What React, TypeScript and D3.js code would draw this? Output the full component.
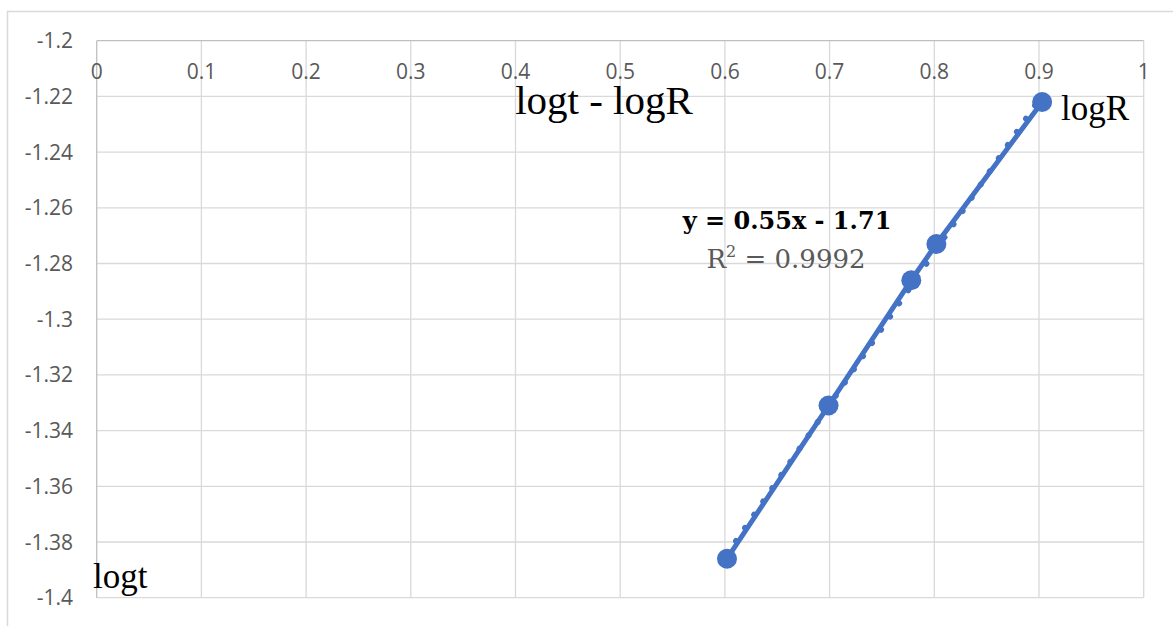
import * as d3 from 'd3';

const logT = [0.602, 0.699, 0.778, 0.802, 0.903];
const logR = [-1.386, -1.331, -1.286, -1.273, -1.222];
const xTicks = [0, 0.1, 0.2, 0.3, 0.4, 0.5, 0.6, 0.7, 0.8, 0.9, 1];
const yTicks = [-1.2, -1.22, -1.24, -1.26, -1.28, -1.3, -1.32, -1.34, -1.36, -1.38, -1.4];
const title = 'logt - logR';
const equation = 'y = 0.55x - 1.71';
const rSquared = '0.9992';

const W = 1173;
const H = 626;
const BLUE = '#4472C4';
const GRID = '#d9d9d9';
const AXIS = '#bfbfbf';
const LABEL = '#595959';
const TICK_FONT = '"Open Sans", sans-serif';
const SERIF = '"Liberation Serif", serif';
const MATH = '"DejaVu Serif", serif';

// excel style labels: plain hyphen, no trailing zeros
const fmt = (v: number) => d3.format('~g')(v).replace('\u2212', '-');

export default function App() {
  const x = d3.scaleLinear().domain([0, 1]).range([96.7, 1143.7]);
  const y = d3.scaleLinear().domain([-1.4, -1.2]).range([597.7, 40.7]);

  const pts = logT.map((v, i) => ({ x: v, y: logR[i] }));

  // least-squares trendline over the points
  const mx = d3.mean(logT)!;
  const my = d3.mean(logR)!;
  const slope = d3.sum(pts, p => (p.x - mx) * (p.y - my)) / d3.sum(pts, p => (p.x - mx) ** 2);
  const icpt = my - slope * mx;
  const x0 = d3.min(logT)!;
  const x1 = d3.max(logT)!;

  const line = d3.line<{ x: number; y: number }>().x(d => x(d.x)).y(d => y(d.y));

  return (
    <div style={{ position: 'absolute', left: 0, top: 0 }}>
      <svg width={W} height={H} style={{ display: 'block', background: '#fff' }}>
        {/* chart frame */}
        <path d={`M7.5,${H} V11.5 H${W}`} fill="none" stroke={GRID} strokeWidth={1.5} />

        {/* grid */}
        {xTicks.slice(1).map(t => (
          <line key={'gx' + t} x1={x(t)} x2={x(t)} y1={y(-1.2)} y2={y(-1.4)} stroke={GRID} strokeWidth={1.3} />
        ))}
        {yTicks.slice(1).map(t => (
          <line key={'gy' + t} x1={x(0)} x2={x(1)} y1={y(t)} y2={y(t)} stroke={GRID} strokeWidth={1.3} />
        ))}
        <line x1={x(0)} x2={x(1)} y1={y(-1.2)} y2={y(-1.2)} stroke={AXIS} strokeWidth={1.3} />
        <line x1={x(0)} x2={x(0)} y1={y(-1.2)} y2={y(-1.4)} stroke={AXIS} strokeWidth={1.3} />

        {/* tick labels */}
        {xTicks.map(t => (
          <text key={'tx' + t} x={x(t)} y={79} textAnchor="middle" fontFamily={TICK_FONT} fontSize={21} fill={LABEL}>
            {fmt(t)}
          </text>
        ))}
        {yTicks.map(t => (
          <text key={'ty' + t} x={73} y={y(t)} dy="0.36em" textAnchor="end" fontFamily={TICK_FONT} fontSize={21} fill={LABEL}>
            {fmt(t)}
          </text>
        ))}

        {/* series */}
        <path d={line(pts)!} fill="none" stroke={BLUE} strokeWidth={5} strokeLinejoin="round" />
        <line
          x1={x(x0)} y1={y(slope * x0 + icpt)} x2={x(x1)} y2={y(slope * x1 + icpt)}
          stroke={BLUE} strokeWidth={6} strokeLinecap="round" strokeDasharray="0.01 16"
        />
        {pts.map((p, i) => (
          <circle key={i} cx={x(p.x)} cy={y(p.y)} r={10} fill={BLUE} />
        ))}

        {/* texts */}
        <text x={604} y={114} textAnchor="middle" fontFamily={SERIF} fontSize={41} fill="#000">{title}</text>
        <text x={1061} y={120} fontFamily={SERIF} fontSize={35} fill="#000">logR</text>
        <text x={93} y={588} fontFamily={SERIF} fontSize={35} fill="#000">logt</text>
        <text x={787} y={229} textAnchor="middle" fontFamily={MATH} fontWeight="bold" fontSize={24} fill="#000">{equation}</text>
        <text x={786} y={268} textAnchor="middle" fontFamily={MATH} fontSize={26} fill={LABEL}>
          R<tspan dy={-11} fontSize={16}>2</tspan><tspan dy={11}> = {rSquared}</tspan>
        </text>
      </svg>
    </div>
  );
}
